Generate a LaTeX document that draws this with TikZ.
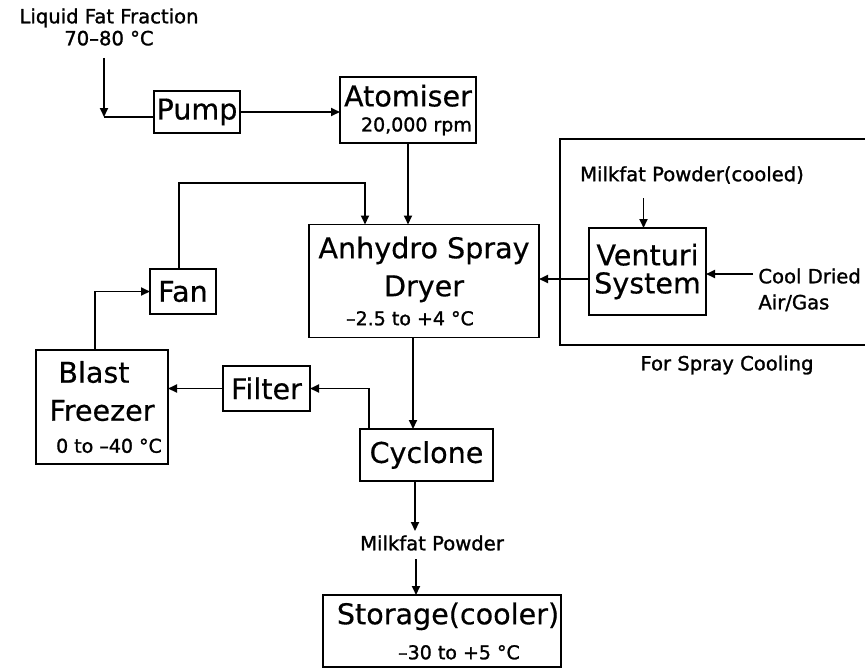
\documentclass[tikz,border=0pt]{standalone}
\usepackage{fontspec}
\setmainfont[FakeBold=0.5]{DejaVu Sans}
\newfontfamily\lblfont[FakeBold=1.3]{DejaVu Sans}
\usetikzlibrary{arrows.meta}
\newcommand\smtxt{\lblfont\fontsize{9.5}{12}\selectfont}

\begin{document}
\begin{tikzpicture}[x=0.5pt,y=-0.5pt,
  box/.style={draw, line width=0.9pt, inner sep=0pt, outer sep=0pt, align=center,
    font=\fontsize{14.3}{19}\selectfont},
  lbl/.style={inner sep=2pt, font=\lblfont\fontsize{9.8}{12}\selectfont},
  arr/.style={line width=0.9pt, -{Triangle[length=4.5pt,width=4pt]}},
  line/.style={line width=0.9pt}]
\useasboundingbox (0,0) rectangle (865,670);

% boxes
\node[box, minimum width=43pt, minimum height=21pt] (pump) at (197,112) {Pump};
\node[box, align=right, minimum width=68pt, minimum height=33pt] (atom) at (408,110)
  {Atomiser\\[-6.5pt]{\smtxt 20,000 rpm}};
\node[box, minimum width=115pt, minimum height=56.5pt] (dryer) at (424,281)
  {Anhydro Spray\\Dryer\\[-4.5pt]\hspace*{-14pt}{\smtxt –2.5 to +4 °C}};
\node[box, minimum width=58.5pt, minimum height=43.5pt] (venturi) at (647.5,271.5)
  {Venturi\\[-5pt]System};
\node[box, minimum width=33pt, minimum height=22.5pt] (fan) at (183,291.5) {Fan};
\node[box, minimum width=66pt, minimum height=57pt] (blast) at (102,407)
  {\hspace*{-8pt}Blast\\Freezer\\[-3pt]\hspace*{7pt}{\smtxt 0 to –40 °C}};
\node[box, minimum width=43.5pt, minimum height=22.5pt] (filter) at (266.5,388.5) {Filter};
\node[box, minimum width=66.5pt, minimum height=26pt] (cyclone) at (426.5,455) {Cyclone};
\node[box, minimum width=119pt, minimum height=36pt] (storage) at (442,631)
  {\hspace*{6pt}Storage(cooler)\\[-1.5pt]\hspace*{17pt}{\smtxt –30 to +5 °C}};

% labels
\node[lbl, align=center] (liquid) at (109,27) {Liquid Fat Fraction\\[-1pt]70–80 °C};
\node[lbl] (cooled) at (692,175) {Milkfat Powder(cooled)};
\node[lbl, align=left, anchor=north west] (cool) at (754,264) {Cool Dried\\[1pt]Air/Gas};
\node[lbl] (spray) at (727,365) {For Spray Cooling};
\node[lbl] (powder) at (432,543) {Milkfat Powder};

% spray cooling frame
\draw[line] (865,139) -- (560,139) -- (560,345) -- (865,345);

\coordinate (join) at (104,117);
\coordinate (loop) at (365,183);
\coordinate (gas) at (753,274);

% connectors
\draw[arr] ([yshift=-4pt]join |- liquid.south) -- (join);
\draw[line] (join) -- (join -| pump.west);
\draw[arr] (pump.east) -- (pump.east -| atom.west);
\draw[arr] (atom.south) -- (atom.south |- dryer.north);
\draw[arr] ([xshift=-2pt]fan.north) |- (loop) -- (loop |- dryer.north);
\draw[arr] ([xshift=-3.5pt]blast.north) |- (fan.west);
\draw[arr] ([xshift=-5.5pt]dryer.south) -- ([xshift=-5.5pt]dryer.south |- cyclone.north);
\draw[arr] ([xshift=-28.75pt]cyclone.north) |- (filter.east);
\draw[arr] (filter.west) -- (filter.west -| blast.east);
\draw[arr] ([yshift=-3.75pt]venturi.west) -- ([yshift=-3.75pt]venturi.west -| dryer.east);
\draw[arr] (gas) -- (gas -| venturi.east);
\draw[arr] ([xshift=-2pt,yshift=-5pt]venturi.north |- cooled.south) -- ([xshift=-2pt]venturi.north);
\draw[arr] ([xshift=-5.75pt]cyclone.south) -- ([xshift=-5.75pt]cyclone.south |- powder.north);
\draw[arr] ([xshift=-13pt,yshift=-2pt]storage.north |- powder.south) -- ([xshift=-13pt]storage.north);
\end{tikzpicture}
\end{document}
